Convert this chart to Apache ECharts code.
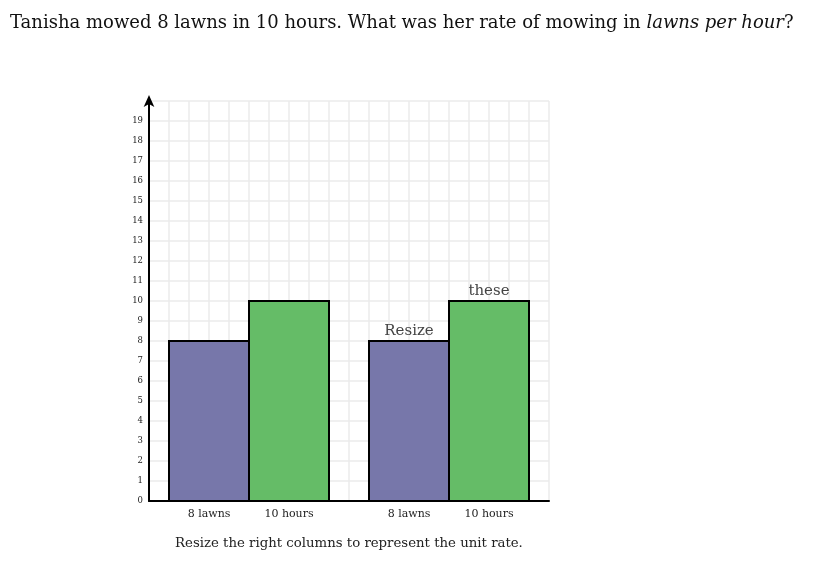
<!DOCTYPE html>
<html><head><meta charset="utf-8">
<script src="https://cdn.jsdelivr.net/npm/echarts@6/dist/echarts.min.js"></script>
<style>html,body{margin:0;padding:0;background:#fff}#c{width:821px;height:564px}</style>
</head><body><div id="c"></div>
<script>
const categories = ["8 lawns", "10 hours", "8 lawns", "10 hours"];
const values = [8, 10, 8, 10];
const barLabels = ["", "", "Resize", "these"];
const colors = ["#7777aa", "#65bc67", "#7777aa", "#65bc67"];
const yTicks = [0,1,2,3,4,5,6,7,8,9,10,11,12,13,14,15,16,17,18,19];

// layout: each column spans 4 grid units, 1-unit margins, 2-unit gap between pairs
const BAR_W = 4;
function barStart(i){ return 1 + i * BAR_W + (i >= 2 ? 2 : 0); }
const barData = values.map((v, i) => [barStart(i), barStart(i) + BAR_W, v, i]);
const centers = barData.map(d => (d[0] + d[1]) / 2);

const SERIF = "'DejaVu Serif', 'Liberation Serif', serif";
const chart = echarts.init(document.getElementById('c'));
chart.setOption({
  animation: false,
  title: [{
    left: 5, top: 9,
    text: '{a|Tanisha mowed 8 lawns in 10 hours. What was her rate of mowing in }{i|lawns per hour}{a|?}',
    textStyle: {
      fontWeight: 'normal',
      rich: {
        a: { fontFamily: SERIF, fontSize: 18, fontWeight: 'normal', color: '#111' },
        i: { fontFamily: SERIF, fontSize: 18, fontWeight: 'normal', fontStyle: 'italic', color: '#111' }
      }
    }
  }, {
    left: 170, top: 532,
    text: 'Resize the right columns to represent the unit rate.',
    textStyle: { fontFamily: SERIF, fontSize: 13.3, fontWeight: 'normal', color: '#222' }
  }],
  grid: { left: 149, right: 272, top: 101, bottom: 63 },
  xAxis: {
    type: 'value', min: 0, max: 20, interval: 1,
    axisLine: { show: true, onZero: false, lineStyle: { color: '#000', width: 2 } },
    axisTick: { show: false },
    splitLine: { show: true, lineStyle: { color: '#ebebeb', width: 1.5 } },
    axisLabel: {
      show: true, margin: 8, fontFamily: SERIF, fontSize: 11, color: '#222',
      showMinLabel: true, showMaxLabel: true,
      formatter: function (v) { const k = centers.indexOf(v); return k >= 0 ? categories[k] : ''; }
    }
  },
  yAxis: {
    type: 'value', min: 0, max: 20, interval: 1,
    axisLine: { show: true, symbol: ['none', 'arrow'], symbolSize: [8, 12], symbolOffset: [0, 6], lineStyle: { color: '#000', width: 2 } },
    axisTick: { show: false },
    splitLine: { show: true, lineStyle: { color: '#ebebeb', width: 1.5 } },
    axisLabel: {
      margin: 6, fontFamily: SERIF, fontSize: 8.5, color: '#222',
      formatter: function (v) { return yTicks.indexOf(v) >= 0 ? String(v) : ''; }
    }
  },
  series: [{
    type: 'custom',
    data: barData,
    encode: { x: [0, 1], y: 2 },
    clip: false,
    renderItem: function (params, api) {
      const i = api.value(3);
      const tl = api.coord([api.value(0), api.value(2)]);
      const br = api.coord([api.value(1), 0]);
      return {
        type: 'rect',
        shape: { x: tl[0], y: tl[1], width: br[0] - tl[0], height: br[1] - tl[1] },
        style: { fill: colors[i], stroke: '#000', lineWidth: 2 },
        textContent: { style: { text: barLabels[i], fontFamily: SERIF, fontSize: 15, fill: '#444' } },
        textConfig: { position: 'top', distance: 1 }
      };
    }
  }]
});
</script></body></html>
